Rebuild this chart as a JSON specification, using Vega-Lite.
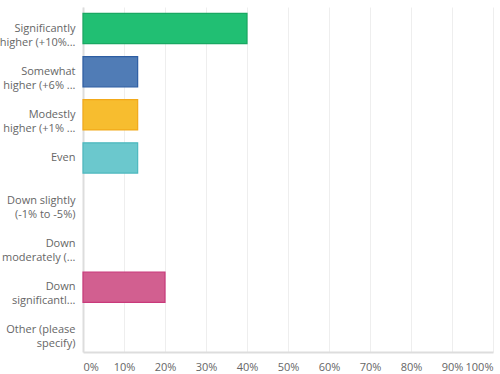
{
  "$schema": "https://vega.github.io/schema/vega-lite/v6.json",
  "width": 410,
  "height": 345,
  "autosize": {"type": "none"},
  "padding": {"left": 83, "top": 7, "right": 7, "bottom": 22},
  "background": "white",
  "config": {
    "view": {"stroke": null},
    "font": "Open Sans"
  },
  "data": {
    "values": [
      {"answer": "Significantly|higher (+10%...", "pct": 0.40},
      {"answer": "Somewhat|higher (+6% ...", "pct": 0.1333},
      {"answer": "Modestly|higher (+1% ...", "pct": 0.1333},
      {"answer": "Even", "pct": 0.1333},
      {"answer": "Down slightly|(-1% to -5%)", "pct": 0},
      {"answer": "Down|moderately (...", "pct": 0},
      {"answer": "Down|significantl...", "pct": 0.20},
      {"answer": "Other (please|specify)", "pct": 0}
    ]
  },
  "mark": {"type": "bar", "strokeWidth": 1.2},
  "encoding": {
    "y": {
      "field": "answer",
      "type": "nominal",
      "sort": null,
      "scale": {"paddingInner": 0.3, "paddingOuter": 0.15},
      "axis": {
        "title": null,
        "labelExpr": "split(datum.label, '|')",
        "labelFontSize": 11,
        "labelColor": "#666666",
        "labelPadding": 8,
        "labelLineHeight": 14,
        "labelLimit": 85,
        "labelOverlap": false,
        "ticks": false,
        "domainColor": "#dddddd",
        "domainWidth": 2,
        "grid": false
      }
    },
    "x": {
      "field": "pct",
      "type": "quantitative",
      "scale": {"domain": [0, 1]},
      "axis": {
        "title": null,
        "format": ".0%",
        "values": [0, 0.1, 0.2, 0.3, 0.4, 0.5, 0.6, 0.7, 0.8, 0.9, 1],
        "labelFontSize": 11,
        "labelColor": "#666666",
        "labelPadding": 9,
        "labelOverlap": false,
        "ticks": false,
        "domainColor": "#dddddd",
        "domainWidth": 2,
        "gridColor": "#eeeeee",
        "labelFlush": true
      }
    },
    "color": {
      "field": "answer",
      "type": "nominal",
      "legend": null,
      "scale": {
        "domain": ["Significantly|higher (+10%...", "Somewhat|higher (+6% ...", "Modestly|higher (+1% ...", "Even", "Down slightly|(-1% to -5%)", "Down|moderately (...", "Down|significantl...", "Other (please|specify)"],
        "range": ["#21bf73", "#507cb6", "#f7bd2f", "#6bc8cd", "#b0b0b0", "#b0b0b0", "#d25f90", "#b0b0b0"]
      }
    },
    "stroke": {
      "field": "answer",
      "type": "nominal",
      "legend": null,
      "scale": {
        "domain": ["Significantly|higher (+10%...", "Somewhat|higher (+6% ...", "Modestly|higher (+1% ...", "Even", "Down slightly|(-1% to -5%)", "Down|moderately (...", "Down|significantl...", "Other (please|specify)"],
        "range": ["#19a862", "#2d5ea3", "#f2a91a", "#4cb8be", "transparent", "transparent", "#c93a7b", "transparent"]
      }
    }
  }
}
